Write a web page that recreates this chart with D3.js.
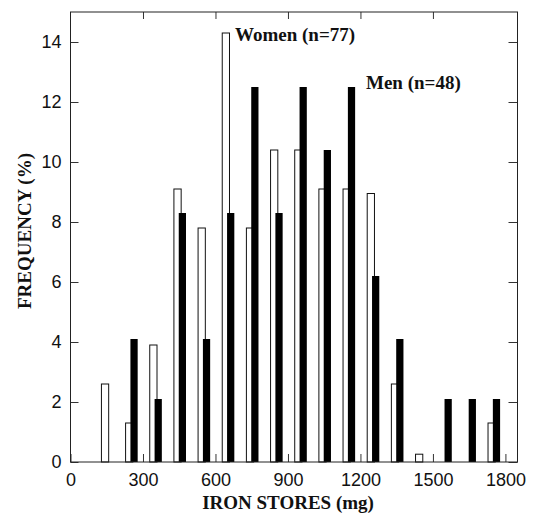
<!DOCTYPE html>
<html>
<head>
<meta charset="utf-8">
<script src="https://cdn.jsdelivr.net/npm/d3@7"></script>
<style>
  html, body { margin: 0; padding: 0; background: #fff; }
  svg { display: block; }
</style>
</head>
<body>
<svg id="chart" width="533" height="513"></svg>
<script>
// ---- data ----
const bins = [150, 250, 350, 450, 550, 650, 750, 850, 950, 1050, 1150, 1250, 1350, 1450, 1550, 1650, 1750];
const women = [2.6, 1.3, 3.9, 9.1, 7.8, 14.3, 7.8, 10.4, 10.4, 9.1, 9.1, 8.95, 2.6, 0.26, 0, 0, 1.3];
const men = [0, 4.1, 2.1, 8.3, 4.1, 8.3, 12.5, 8.3, 12.5, 10.4, 12.5, 6.2, 4.1, 0, 2.1, 2.1, 2.1];
const xTicks = [0, 300, 600, 900, 1200, 1500, 1800];
const yTicks = [0, 2, 4, 6, 8, 10, 12, 14];
const xTitle = "IRON STORES (mg)";
const yTitle = "FREQUENCY (%)";
const womenLabel = "Women (n=77)";
const menLabel = "Men (n=48)";

// ---- layout ----
const L = 70.5, R = 517.5, T = 12, B = 462;
const svg = d3.select("#chart");
const x = d3.scaleLinear().domain([0, 1850]).range([L, R]);
const y = d3.scaleLinear().domain([0, 15]).range([B, T]);
const barW = 30; // mg
const womenOff = -22, menOff = -2;

// bars: women (white) first, men (black) on top
svg.append("g").selectAll("rect")
  .data(bins.map((b, i) => ({b, v: women[i]})).filter(d => d.v > 0))
  .join("rect")
  .attr("x", d => x(d.b + womenOff))
  .attr("width", d => x(d.b + womenOff + barW) - x(d.b + womenOff))
  .attr("y", d => y(d.v))
  .attr("height", d => y(0) - y(d.v))
  .attr("fill", "#fff")
  .attr("stroke", "#111")
  .attr("stroke-width", 1);

svg.append("g").selectAll("rect")
  .data(bins.map((b, i) => ({b, v: men[i]})).filter(d => d.v > 0))
  .join("rect")
  .attr("x", d => x(d.b + menOff))
  .attr("width", d => x(d.b + menOff + barW) - x(d.b + menOff))
  .attr("y", d => y(d.v))
  .attr("height", d => y(0) - y(d.v))
  .attr("fill", "#000");

// axes
const tickFont = "'Liberation Sans', Arial, sans-serif";
const fmt = d3.format("d");
const gx = svg.append("g").attr("transform", `translate(0,${B})`)
  .call(d3.axisBottom(x).tickValues(xTicks).tickFormat(fmt).tickSizeInner(-8).tickSizeOuter(0).tickPadding(11));
const gy = svg.append("g").attr("transform", `translate(${L},0)`)
  .call(d3.axisLeft(y).tickValues(yTicks).tickFormat(fmt).tickSizeInner(-8).tickSizeOuter(0).tickPadding(9));
const gt = svg.append("g").attr("transform", `translate(0,${T})`)
  .call(d3.axisTop(x).tickValues(xTicks).tickSizeInner(-7).tickSizeOuter(0).tickFormat(""));
const gr = svg.append("g").attr("transform", `translate(${R},0)`)
  .call(d3.axisRight(y).tickValues(yTicks).tickSizeInner(-9).tickSizeOuter(0).tickFormat(""));

[gx, gy, gt, gr].forEach(g => {
  g.select(".domain").remove();
  g.selectAll("line").attr("stroke", "#333");
  g.selectAll("text").attr("font-family", tickFont).attr("font-size", 18).attr("fill", "#111");
});
gt.selectAll(".tick").filter(d => d === 0 || d === 1800).remove();

// frame
svg.append("rect")
  .attr("x", L).attr("y", T).attr("width", R - L).attr("height", B - T)
  .attr("fill", "none").attr("stroke", "#222").attr("stroke-width", 1);

// titles
const serif = "'Liberation Serif', 'Times New Roman', serif";
svg.append("text")
  .attr("x", (L + R) / 2 - 6).attr("y", 509)
  .attr("text-anchor", "middle")
  .attr("font-family", serif).attr("font-weight", "bold").attr("font-size", 19)
  .attr("fill", "#111")
  .text(xTitle);
svg.append("text")
  .attr("transform", `translate(31,${(T + B) / 2 - 6}) rotate(-90)`)
  .attr("text-anchor", "middle")
  .attr("font-family", serif).attr("font-weight", "bold").attr("font-size", 19)
  .attr("fill", "#111")
  .text(yTitle);

// annotations
svg.append("text")
  .attr("x", 235).attr("y", 41)
  .attr("font-family", serif).attr("font-weight", "bold").attr("font-size", 19)
  .attr("fill", "#111")
  .text(womenLabel);
svg.append("text")
  .attr("x", 366).attr("y", 89)
  .attr("font-family", serif).attr("font-weight", "bold").attr("font-size", 19)
  .attr("fill", "#111")
  .text(menLabel);
</script>
</body>
</html>
